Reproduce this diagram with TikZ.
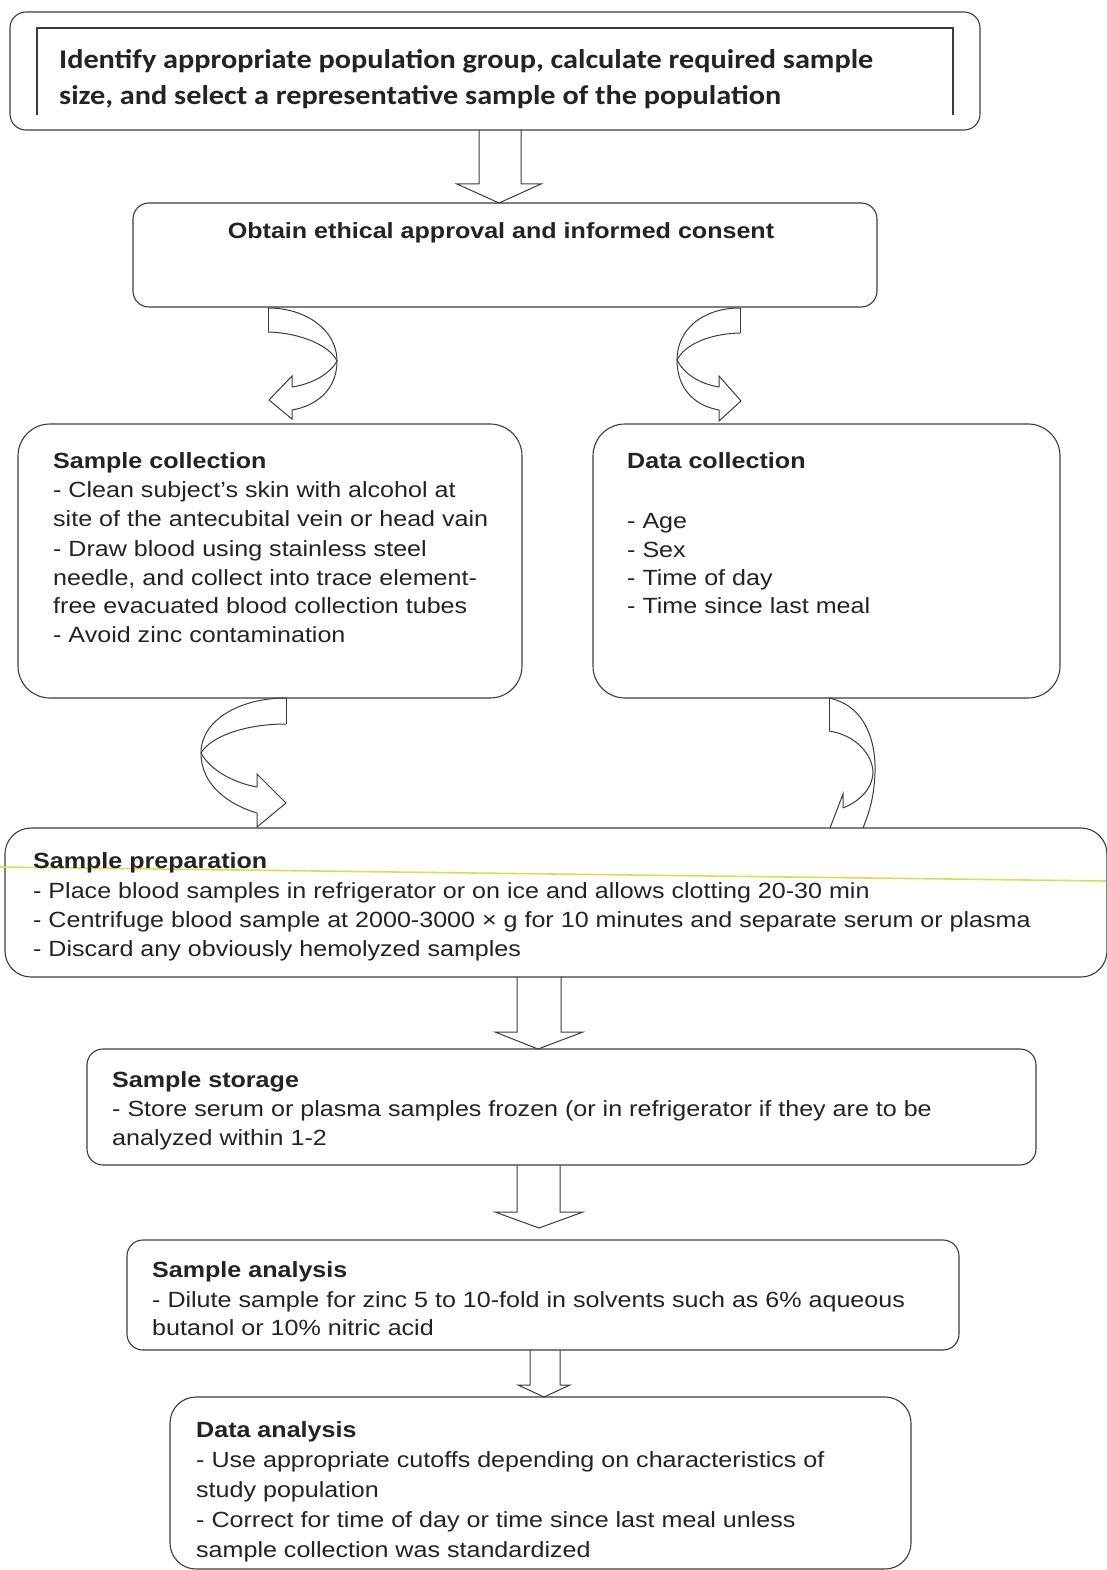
\documentclass[tikz,border=0pt]{standalone}
\usepackage{fontspec}
\setmainfont{Liberation Sans}
\newfontfamily\bodyfont[FakeStretch=1.14]{Liberation Sans}
\newfontfamily\topfont[FakeStretch=1.12]{Carlito}
\usetikzlibrary{calc}
\definecolor{ln}{RGB}{60,60,60}
\definecolor{tx}{RGB}{35,35,35}
\definecolor{hl}{RGB}{228,218,80}
\tikzset{
 box/.style={draw=ln, line width=1.1pt, anchor=north west, inner sep=0pt, outer sep=0pt},
 arr/.style={draw=ln, line width=1pt, line join=miter},
 carr/.style={draw=ln, line width=1pt, line join=miter},
 txt/.style={anchor=base west, inner sep=0pt, text=tx, font=\bodyfont\fontsize{22}{29}\selectfont},
 ttl/.style={anchor=base west, inner sep=0pt, text=tx, font=\bodyfont\bfseries\fontsize{22}{29}\selectfont},
 toptxt/.style={anchor=base west, inner sep=0pt, text=tx, font=\topfont\bfseries\fontsize{27}{34}\selectfont},
}
\begin{document}
\begin{tikzpicture}[x=1pt,y=1pt]
\useasboundingbox[fill=white] (0,0) rectangle (1106,-1570);

% boxes
\node[box, rounded corners=16pt, minimum width=970pt, minimum height=118pt] (b1) at (10,-12) {};
\draw[ln, line width=1.1pt] (37,-115) -- (37,-28) -- (953,-28) -- (953,-115);
\node[box, rounded corners=16pt, minimum width=744pt, minimum height=104pt] (b2) at (133,-203) {};
\node[box, rounded corners=32pt, minimum width=504pt, minimum height=274pt] (b3) at (18,-424) {};
\node[box, rounded corners=32pt, minimum width=467pt, minimum height=274pt] (b4) at (593,-424) {};
\node[box, rounded corners=26pt, minimum width=1102pt, minimum height=149pt] (b5) at (5,-828) {};
\node[box, rounded corners=16pt, minimum width=949pt, minimum height=116pt] (b6) at (87,-1049) {};
\node[box, rounded corners=16pt, minimum width=832pt, minimum height=110pt] (b7) at (127,-1240) {};
\node[box, rounded corners=26pt, minimum width=741pt, minimum height=172pt] (b8) at (170,-1397) {};

% scan highlight line
\draw[hl, line width=1.6pt] (0,-867) -- (1106,-881);

% text
\node[toptxt] (t1a) at (59,-69) {Identify appropriate population group, calculate required sample};
\node[toptxt] (t1b) at (59,-105) {size, and select a representative sample of the population};

\node[anchor=base, inner sep=0pt, text=tx, font=\bodyfont\bfseries\fontsize{22}{29}\selectfont] (t2) at (501,-239) {Obtain ethical approval and informed consent};

\node[ttl] (t3) at (53,-468) {Sample collection};
\node[txt] (t3a) at (53,-497) {- Clean subject’s skin with alcohol at};
\node[txt] (t3b) at (53,-526) {site of the antecubital vein or head vain};
\node[txt] (t3c) at (53,-556) {- Draw blood using stainless steel};
\node[txt] (t3d) at (53,-585) {needle, and collect into trace element-};
\node[txt] (t3e) at (53,-613) {free evacuated blood collection tubes};
\node[txt] (t3f) at (53,-642) {- Avoid zinc contamination};

\node[ttl] (t4) at (627,-468) {Data collection};
\node[txt] (t4a) at (627,-528) {- Age};
\node[txt] (t4b) at (627,-557) {- Sex};
\node[txt] (t4c) at (627,-585) {- Time of day};
\node[txt] (t4d) at (627,-613) {- Time since last meal};

\node[ttl] (t5) at (33,-868) {Sample preparation};
\node[txt] (t5a) at (33,-898) {- Place blood samples in refrigerator or on ice and allows clotting 20-30 min};
\node[txt] (t5b) at (33,-927) {- Centrifuge blood sample at 2000-3000 × g for 10 minutes and separate serum or plasma};
\node[txt] (t5c) at (33,-956) {- Discard any obviously hemolyzed samples};

\node[ttl] (t6) at (112,-1087) {Sample storage};
\node[txt] (t6a) at (112,-1116) {- Store serum or plasma samples frozen (or in refrigerator if they are to be};
\node[txt] (t6b) at (112,-1145) {analyzed within 1-2};

\node[ttl] (t7) at (152,-1277) {Sample analysis};
\node[txt] (t7a) at (152,-1307) {- Dilute sample for zinc 5 to 10-fold in solvents such as 6\% aqueous};
\node[txt] (t7b) at (152,-1335) {butanol or 10\% nitric acid};

\node[ttl] (t8) at (196,-1437) {Data analysis};
\node[txt] (t8a) at (196,-1467) {- Use appropriate cutoffs depending on characteristics of};
\node[txt] (t8b) at (196,-1497) {study population};
\node[txt] (t8c) at (196,-1527) {- Correct for time of day or time since last meal unless};
\node[txt] (t8d) at (196,-1557) {sample collection was standardized};

% straight block arrows
\draw[arr] let \p1=(b1.south), \p2=(b2.north) in
  (479,\y1) -- (479,\y2+19) -- (457,\y2+19) -- (499,\y2) -- (541,\y2+19) -- (521,\y2+19) -- (521,\y1);
\draw[arr] let \p1=(b5.south), \p2=(b6.north) in
  (517,\y1) -- (517,\y2+17) -- (495,\y2+17) -- (538,\y2) -- (583,\y2+17) -- (561,\y2+17) -- (561,\y1);
\draw[arr] let \p1=(b6.south), \p2=(b7.north) in
  (517,\y1) -- (517,\y2+28) -- (495,\y2+28) -- (539,\y2+12) -- (583,\y2+28) -- (560,\y2+28) -- (560,\y1);
\draw[arr] let \p1=(b7.south), \p2=(b8.north) in
  (530,\y1) -- (530,\y2+12) -- (518,\y2+12) -- (544,\y2) -- (570,\y2+12) -- (560,\y2+12) -- (560,\y1);

% curved arrow b2 -> b3
\draw[carr] (268,-308) -- (268,-332);
\draw[carr] (268,-308) .. controls (306,-308) and (337,-330) .. (337,-361)
  .. controls (337,-390) and (316,-406) .. (292,-410);
\draw[carr] (268,-332) .. controls (302,-333) and (330,-346) .. (337,-361)
  .. controls (330,-374) and (312,-384) .. (292,-387);
\draw[carr] (292,-387) -- (292,-376) -- (269,-400) -- (292,-419) -- (292,-410);

% curved arrow b2 -> b4
\draw[carr] (740,-308) -- (740,-333);
\draw[carr] (740,-308) .. controls (702,-308) and (677,-330) .. (677,-360)
  .. controls (677,-390) and (696,-406) .. (719,-410);
\draw[carr] (740,-333) .. controls (706,-334) and (684,-346) .. (677,-360)
  .. controls (684,-374) and (700,-384) .. (719,-387);
\draw[carr] (719,-387) -- (719,-376) -- (741,-401) -- (719,-421) -- (719,-410);

% curved arrow b3 -> b5
\draw[carr] (286,-698) -- (286,-724);
\draw[carr] (286,-698) .. controls (240,-698) and (201,-720) .. (201,-753)
  .. controls (201,-786) and (230,-805) .. (257,-813);
\draw[carr] (286,-724) .. controls (246,-724) and (211,-736) .. (201,-753)
  .. controls (210,-770) and (234,-783) .. (257,-787);
\draw[carr] (257,-787) -- (257,-774) -- (286,-803) -- (257,-827) -- (257,-813);

% curved arrow b4 -> b5
\draw[carr] (829,-698) -- (829,-731);
\draw[carr] (829,-698) .. controls (866,-706) and (876,-742) .. (875,-773)
  .. controls (874,-800) and (868,-815) .. (863,-828);
\draw[carr] (829,-731) .. controls (856,-735) and (873,-755) .. (873,-773)
  .. controls (872,-790) and (858,-802) .. (843,-808);
\draw[carr] (843,-808) -- (843,-794) -- (830,-828);
\end{tikzpicture}
\end{document}
